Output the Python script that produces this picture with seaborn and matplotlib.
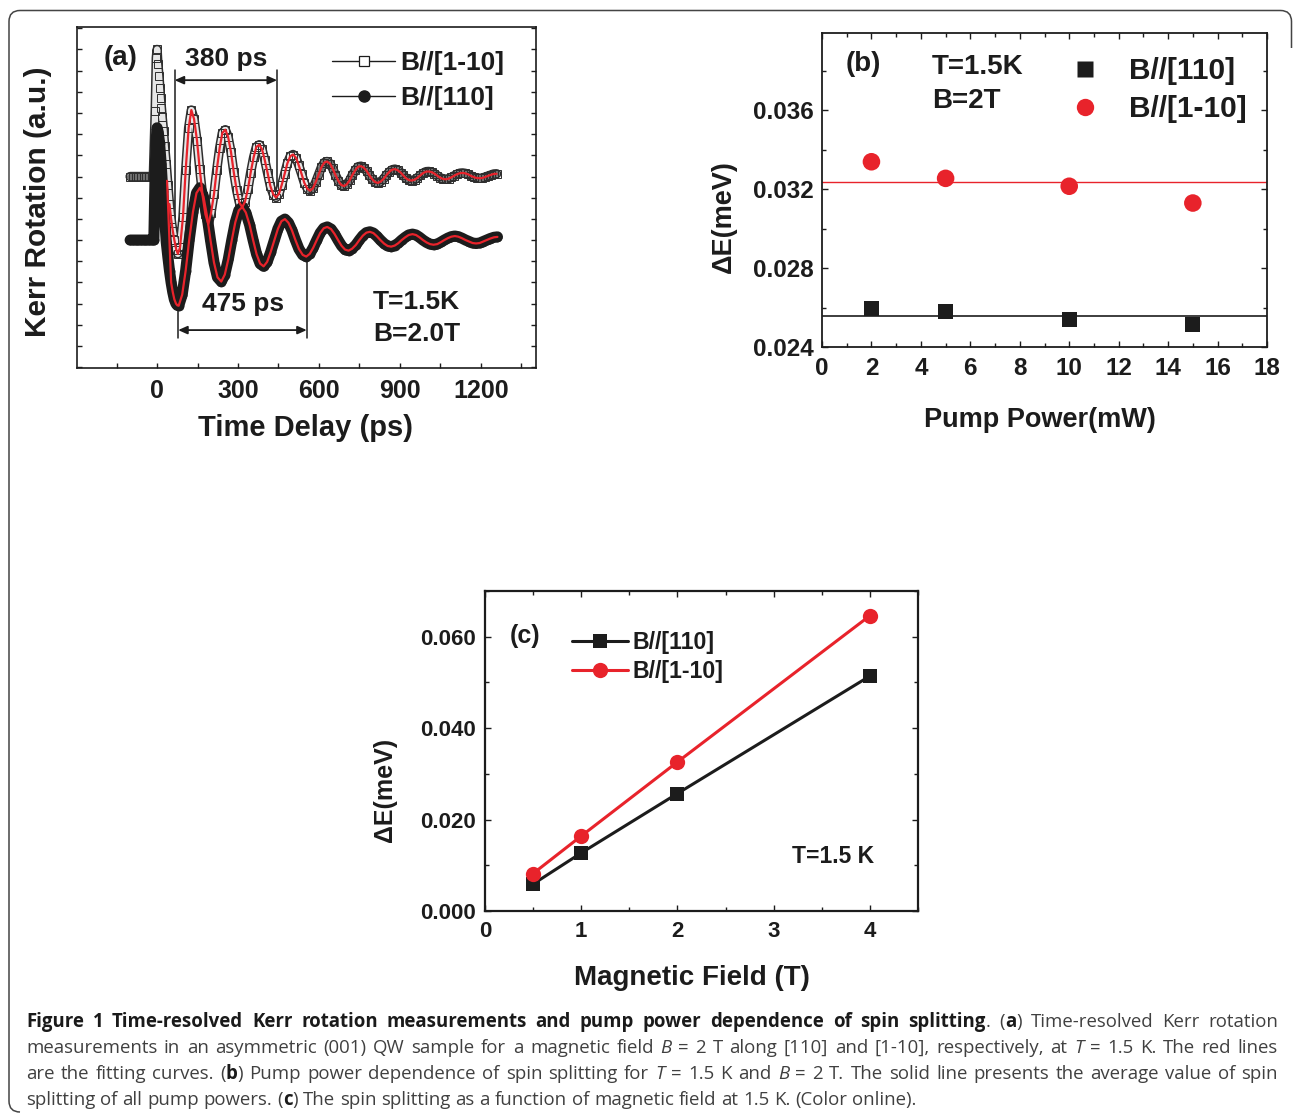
import numpy as np
import matplotlib
matplotlib.use("Agg")
import matplotlib.pyplot as plt
import seaborn as sns
from matplotlib.lines import Line2D
from matplotlib.path import Path
from matplotlib.patches import PathPatch
from matplotlib.ticker import MultipleLocator, FormatStrFormatter

# ---------------- data: panel (a) time-resolved Kerr rotation (a.u., offset) ----------------
T_1M10 = [-100, -90, -80, -70, -60, -50, -40, -30, -20, -14, -7, -3, 0, 3, 7, 10, 13, 16, 19,
          24, 28, 34, 40, 46, 52, 58, 64, 71, 77, 85, 96, 106, 117,
          127, 137, 148, 158, 169, 179, 190, 200, 211, 221, 232, 242, 253, 263, 274, 284, 295, 305,
          316, 326, 337, 347, 358, 368, 379, 389, 399, 410, 420, 431, 441, 452, 462, 473, 483, 494,
          504, 515, 525, 536, 546, 557, 567, 578, 588, 599, 609, 620, 630, 641, 651, 661, 672, 682,
          693, 703, 714, 724, 735, 745, 756, 766, 777, 787, 798, 808, 819, 829, 840, 850, 861, 871,
          882, 892, 903, 913, 923, 934, 944, 955, 965, 976, 986, 997, 1007, 1018, 1028, 1039, 1049,
          1060, 1070, 1081, 1091, 1102, 1112, 1123, 1133, 1143, 1154, 1164, 1175, 1185, 1196, 1206,
          1217, 1227, 1238, 1248, 1259]
KERR_1M10 = [3.0, 3.0, 3.0, 3.0, 3.0, 3.0, 3.0, 3.0, 3.0, 3.0, 6.1, 8.6, 9.0, 8.3, 7.75, 7.2, 6.7, 6.25, 5.8,
             5.15, 4.45, 3.6, 2.6, 1.7, 1.0, 0.45, 0.0, -0.45, -0.65, -0.35, 1.1, 3.3, 5.3,
             6.14, 5.72, 4.70, 3.36, 2.08, 1.22, 0.75, 1.28, 2.17, 3.29, 4.35, 5.06, 5.21, 4.89, 4.16, 3.23, 2.36, 1.77,
             1.55, 1.82, 2.42, 3.19, 3.91, 4.40, 4.50, 4.29, 3.79, 3.15, 2.55, 2.15, 2.01, 2.19, 2.60, 3.13, 3.62, 3.96,
             4.04, 3.89, 3.54, 3.11, 2.70, 2.43, 2.33, 2.45, 2.73, 3.09, 3.43, 3.66, 3.71, 3.61, 3.38, 3.08, 2.80, 2.61,
             2.55, 2.63, 2.82, 3.07, 3.30, 3.46, 3.49, 3.42, 3.26, 3.06, 2.87, 2.74, 2.70, 2.76, 2.89, 3.06, 3.22, 3.32,
             3.35, 3.30, 3.19, 3.05, 2.92, 2.83, 2.81, 2.85, 2.94, 3.05, 3.16, 3.23, 3.24, 3.21, 3.14, 3.04, 2.95,
             2.89, 2.87, 2.90, 2.96, 3.04, 3.11, 3.16, 3.17, 3.15, 3.10, 3.03, 2.97, 2.93, 2.92, 2.93,
             2.98, 3.03, 3.08, 3.12, 3.13]

T_110 = [-100, -90, -80, -70, -60, -50, -40, -30, -20, -12, -8, -4, 0, 4, 9, 15, 21, 28, 34, 40,
         46, 52, 58, 64, 70, 75,
         80, 93, 106, 119, 133, 146, 159, 172, 185, 198, 211, 224, 238, 251, 264, 277, 290, 303, 316, 329,
         343, 356, 369, 382, 395, 408, 421, 435, 448, 461, 474, 487, 500, 513, 526, 540, 553, 566, 579, 592,
         605, 618, 631, 645, 658, 671, 684, 697, 710, 723, 737, 750, 763, 776, 789, 802, 815, 828, 842, 855,
         868, 881, 894, 907, 920, 933, 947, 960, 973, 986, 999, 1012, 1025, 1039, 1052, 1065, 1078, 1091,
         1104, 1117, 1130, 1144, 1157, 1170, 1183, 1196, 1209, 1222, 1235, 1249, 1262]
KERR_110 = [0.0, 0.0, 0.0, 0.0, 0.0, 0.0, 0.0, 0.0, 0.0, 0.0, 2.7, 4.6, 5.3, 5.1, 4.6, 3.6, 2.3, 1.05, -0.1, -0.8,
            -1.45, -2.0, -2.45, -2.8, -3.0, -3.08,
            -3.10, -2.58, -1.44, 0.00, 1.33, 2.22, 2.47, 2.05, 1.14, 0.00, -1.06, -1.76, -1.96, -1.63, -0.91, 0.00,
            0.84, 1.40, 1.56, 1.30, 0.72, 0.00, -0.67, -1.11, -1.24, -1.03, -0.57, 0.00, 0.53, 0.89, 0.99, 0.82,
            0.46, 0.00, -0.42, -0.70, -0.78, -0.65, -0.36, 0.00, 0.34, 0.56, 0.62, 0.52, 0.29, 0.00, -0.27, -0.45,
            -0.50, -0.41, -0.23, 0.00, 0.21, 0.35, 0.39, 0.33, 0.18, 0.00, -0.17, -0.28, -0.31, -0.26, -0.15, 0.00,
            0.13, 0.24, 0.28, 0.24, 0.13, 0.00, -0.11, -0.19, -0.22, -0.19, -0.10, 0.00, 0.09, 0.16, 0.19, 0.16,
            0.09, 0.00, -0.07, -0.14, -0.16, -0.14, -0.07, 0.00, 0.07, 0.13, 0.15]
FIT_LEAD_T_110 = [37]
FIT_LEAD_V_110 = [2.8]
FIT_START_1M10 = 46
FIT_START_110 = 52

# ---------------- data: panel (b) pump power dependence ----------------
POWER_MW = [2, 5, 10, 15]
DE_POWER_110 = [0.02594, 0.02582, 0.02540, 0.02513]
DE_POWER_1M10 = [0.03338, 0.03254, 0.03214, 0.03129]

# ---------------- data: panel (c) magnetic field dependence ----------------
FIELD_T = [0.5, 1, 2, 4]
DE_FIELD_110 = [0.0059, 0.0127, 0.0257, 0.0514]
DE_FIELD_1M10 = [0.0082, 0.0164, 0.0326, 0.0646]

LEG_1M10 = "B//[1-10]"
LEG_110 = "B//[110]"

CAPTION_LINES = [
    "*Figure 1 Time-resolved Kerr rotation measurements and pump power dependence of spin splitting*. (*a*) Time-resolved Kerr rotation",
    "measurements in an asymmetric (001) QW sample for a magnetic field _B_ = 2 T along [110] and [1-10], respectively, at _T_ = 1.5 K. The red lines",
    "are the fitting curves. (*b*) Pump power dependence of spin splitting for _T_ = 1.5 K and _B_ = 2 T. The solid line presents the average value of spin",
    "splitting of all pump powers. (*c*) The spin splitting as a function of magnetic field at 1.5 K. (Color online).",
]

# ---------------- style ----------------
INK = "#1c1c1c"
RED = "#e8232b"
sns.set_theme(style="ticks")
plt.rcParams["font.family"] = ["Liberation Sans", "DejaVu Sans"]
plt.rcParams["font.weight"] = "bold"
plt.rcParams["axes.labelweight"] = "bold"
plt.rcParams["text.color"] = INK
plt.rcParams["axes.labelcolor"] = INK
plt.rcParams["xtick.color"] = INK
plt.rcParams["ytick.color"] = INK
plt.rcParams["axes.edgecolor"] = INK

W, H = 1293, 1118
fig = plt.figure(figsize=(W / 100, H / 100), dpi=100)


def px_axes(l, t, r, b):
    return fig.add_axes([l / W, 1 - b / H, (r - l) / W, (b - t) / H])


def style_ticks(ax, lw_spine, top=True):
    for s in ax.spines.values():
        s.set_linewidth(lw_spine)
        s.set_visible(True)
    ax.tick_params(which="both", direction="in", right=True, top=top, width=1.0)
    ax.tick_params(which="major", length=4.5)
    ax.tick_params(which="minor", length=3.0)


def subset(ts, vs, lo, hi):
    pairs = [(t, v) for t, v in zip(ts, vs) if lo <= t <= hi]
    return [p[0] for p in pairs], [p[1] for p in pairs]


# ================= panel (a) =================
axA = px_axes(77, 27, 536, 368)
round_kw = dict(solid_joinstyle="round", solid_capstyle="round")
# B//[1-10]: dense open squares -> dark-edged band with square "rungs"
sns.lineplot(x=T_1M10, y=KERR_1M10, ax=axA, sort=False, estimator=None, color="#2e2e2e", lw=6.8,
             zorder=2, **round_kw)
sns.lineplot(x=T_1M10, y=KERR_1M10, ax=axA, sort=False, estimator=None, color="#e6e6e6", lw=4.6,
             zorder=2.05, **round_kw)
# where the squares pile up densely (flat baseline and late times) the band looks dark grey
for lo, hi in [(-100, -14), (560, 1259)]:
    ts, vs = subset(T_1M10, KERR_1M10, lo, hi)
    sns.lineplot(x=ts, y=vs, ax=axA, sort=False, estimator=None, color="#6e6e6e", lw=4.6,
                 zorder=2.07, **round_kw)
sns.lineplot(x=T_1M10, y=KERR_1M10, ax=axA, sort=False, estimator=None, color="#2e2e2e", lw=0,
             marker="s", ms=6.0, mfc="none", mec="#2e2e2e", mew=0.7, zorder=2.1)
# B//[110]: dense filled circles -> solid black band
sns.lineplot(x=T_110, y=KERR_110, ax=axA, sort=False, estimator=None, color=INK, lw=8.0,
             marker="o", ms=6.6, mfc=INK, mec=INK, mew=0.4, zorder=3, **round_kw)
fit_t_1m10, fit_v_1m10 = subset(T_1M10, KERR_1M10, FIT_START_1M10, 1e9)
ft, fv = subset(T_110, KERR_110, FIT_START_110, 1e9)
fit_t_110 = FIT_LEAD_T_110 + ft
fit_v_110 = FIT_LEAD_V_110 + fv
sns.lineplot(x=fit_t_1m10, y=fit_v_1m10, ax=axA, sort=False, estimator=None, color=RED, lw=1.6, zorder=5)
sns.lineplot(x=fit_t_110, y=fit_v_110, ax=axA, sort=False, estimator=None, color=RED, lw=1.6, zorder=5)

axA.set_xlim(-297, 1405)
axA.set_ylim(-6.04, 10.06)
axA.xaxis.set_major_locator(MultipleLocator(300))
axA.xaxis.set_minor_locator(MultipleLocator(150))
axA.yaxis.set_major_locator(MultipleLocator(1))
style_ticks(axA, 1.2, top=False)
axA.tick_params(which="both", length=3.6)
axA.tick_params(axis="x", labelsize=18, pad=8)
axA.tick_params(axis="y", labelleft=False)
axA.set_xlabel("Time Delay (ps)", fontsize=21)
axA.set_ylabel("Kerr Rotation (a.u.)", fontsize=21.5)
axA.xaxis.label.set_va("center")
axA.yaxis.label.set_va("center")
axA.xaxis.set_label_coords(0.497, -0.176)
axA.yaxis.set_label_coords(-0.085, 0.487)

arrow_kw = dict(arrowstyle="<|-|>,head_length=0.45,head_width=0.2", color=INK, lw=1.3,
                shrinkA=0, shrinkB=0)
axA.annotate("", xy=(445, 7.55), xytext=(65, 7.55), arrowprops=arrow_kw, zorder=6)
axA.plot([65, 65], [8.05, -0.65], color=INK, lw=1.1, zorder=1)
axA.plot([445, 445], [8.05, 1.85], color=INK, lw=1.1, zorder=1)
axA.annotate("", xy=(555, -4.25), xytext=(78, -4.25), arrowprops=arrow_kw, zorder=6)
axA.plot([78, 78], [-3.0, -4.6], color=INK, lw=1.1, zorder=1)
axA.plot([555, 555], [-0.9, -4.6], color=INK, lw=1.1, zorder=1)
axA.text(258, 8.54, "380 ps", fontsize=19, ha="center", va="center")
axA.text(317, -3.02, "475 ps", fontsize=19, ha="center", va="center")
axA.text(-136, 8.6, "(a)", fontsize=20, ha="center", va="center")
axA.text(800, -2.92, "T=1.5K", fontsize=19, ha="left", va="center")
axA.text(800, -4.43, "B=2.0T", fontsize=19, ha="left", va="center")

hA1 = Line2D([], [], color=INK, lw=1.0, marker="s", ms=7, mfc="white", mec=INK, mew=0.9)
hA2 = Line2D([], [], color=INK, lw=1.0, marker="o", ms=8, mfc=INK, mec=INK)
axA.legend([hA1, hA2], [LEG_1M10, LEG_110], loc="upper left", bbox_to_anchor=(0.5556, 0.930),
           frameon=False, fontsize=19, handlelength=2.4, handletextpad=0.2, labelspacing=0.44,
           borderpad=0, borderaxespad=0, numpoints=1)

# ================= panel (b) =================
axB = px_axes(822, 33, 1267, 347)
sns.scatterplot(x=POWER_MW, y=DE_POWER_110, ax=axB, marker="s", s=115, color=INK,
                edgecolor="none", zorder=3)
sns.scatterplot(x=POWER_MW, y=DE_POWER_1M10, ax=axB, marker="o", s=160, color=RED,
                edgecolor="none", zorder=3)
axB.axhline(np.mean(DE_POWER_110), color=INK, lw=1.2, zorder=2)
axB.axhline(np.mean(DE_POWER_1M10), color=RED, lw=1.0, zorder=2)
axB.set_xlim(0, 18)
axB.set_ylim(0.024, 0.0399)
axB.xaxis.set_major_locator(MultipleLocator(2))
axB.xaxis.set_minor_locator(MultipleLocator(1))
axB.yaxis.set_major_locator(MultipleLocator(0.004))
axB.yaxis.set_minor_locator(MultipleLocator(0.002))
axB.yaxis.set_major_formatter(FormatStrFormatter("%.3f"))
style_ticks(axB, 1.3)
axB.tick_params(axis="x", labelsize=17.5, pad=7)
axB.tick_params(axis="y", labelsize=17.5, pad=6)
axB.set_xlabel("Pump Power(mW)", fontsize=19.5)
axB.set_ylabel("ΔE(meV)", fontsize=19.5)
axB.xaxis.label.set_va("center")
axB.yaxis.label.set_va("center")
axB.xaxis.set_label_coords(0.49, -0.2325)
axB.yaxis.set_label_coords(-0.22, 0.414)
axB.text(1.66, 0.03834, "(b)", fontsize=20, ha="center", va="center")
axB.text(4.45, 0.03819, "T=1.5K", fontsize=20, ha="left", va="center")
axB.text(4.45, 0.03647, "B=2T", fontsize=20, ha="left", va="center")
hB1 = Line2D([], [], ls="none", marker="s", ms=11, color=INK, mec="none")
hB2 = Line2D([], [], ls="none", marker="o", ms=12.5, color=RED, mec="none")
axB.legend([hB1, hB2], [LEG_110, LEG_1M10], loc="upper left", bbox_to_anchor=(0.557, 0.922),
           frameon=False, fontsize=21.5, handlelength=1.0, handletextpad=0.97, labelspacing=0.33,
           borderpad=0, borderaxespad=0, numpoints=1)

# ================= panel (c) =================
axC = px_axes(485, 591, 918, 911)
sns.lineplot(x=FIELD_T, y=DE_FIELD_110, ax=axC, sort=False, estimator=None, color=INK, lw=2.2,
             marker="s", ms=10, mec=INK, mew=0, zorder=3)
sns.lineplot(x=FIELD_T, y=DE_FIELD_1M10, ax=axC, sort=False, estimator=None, color=RED, lw=2.2,
             marker="o", ms=11, mec=RED, mew=0, zorder=4)
axC.set_xlim(0, 4.5)
axC.set_ylim(0, 0.07)
axC.xaxis.set_major_locator(MultipleLocator(1))
axC.xaxis.set_minor_locator(MultipleLocator(0.5))
axC.yaxis.set_major_locator(MultipleLocator(0.02))
axC.yaxis.set_minor_locator(MultipleLocator(0.01))
axC.yaxis.set_major_formatter(FormatStrFormatter("%.3f"))
style_ticks(axC, 1.6)
axC.tick_params(axis="x", labelsize=16, pad=7)
axC.tick_params(axis="y", labelsize=16, pad=6.5)
axC.set_xlabel("Magnetic Field (T)", fontsize=20)
axC.set_ylabel("ΔE(meV)", fontsize=18)
axC.xaxis.label.set_va("center")
axC.yaxis.label.set_va("center")
axC.xaxis.set_label_coords(0.478, -0.209)
axC.yaxis.set_label_coords(-0.231, 0.378)
axC.text(0.416, 0.0602, "(c)", fontsize=18, ha="center", va="center")
axC.text(4.04, 0.01196, "T=1.5 K", fontsize=16.5, ha="right", va="center")
hC1 = Line2D([], [], color=INK, lw=2.2, marker="s", ms=10, mec=INK, mew=0)
hC2 = Line2D([], [], color=RED, lw=2.2, marker="o", ms=11, mec=RED, mew=0)
axC.legend([hC1, hC2], [LEG_110, LEG_1M10], loc="upper left", bbox_to_anchor=(0.201, 0.874),
           frameon=False, fontsize=16.7, handlelength=2.4, handletextpad=0.2, labelspacing=0.25,
           borderpad=0, borderaxespad=0, numpoints=1)

# ================= frame around the figure =================
def fx(x):
    return x / W


def fy(y):
    return 1 - y / H


r = 11
verts = [(1291.5, 48), (1291.5, 10.5 + r), (1291.5, 10.5), (1291.5 - r, 10.5),
         (9 + r, 10.5), (9, 10.5), (9, 10.5 + r), (9, 1112 - r), (9, 1112), (9 + r, 1112)]
codes = [Path.MOVETO, Path.LINETO, Path.CURVE3, Path.CURVE3, Path.LINETO, Path.CURVE3, Path.CURVE3,
         Path.LINETO, Path.CURVE3, Path.CURVE3]
frame_path = Path([(fx(x), fy(y)) for x, y in verts], codes)
fig.patches.append(PathPatch(frame_path, transform=fig.transFigure, fill=False,
                             edgecolor="#444444", lw=1.1))

# ================= caption (justified) =================
CAP_FAMILY = ["Open Sans", "DejaVu Sans"]
CAP_SIZE = 13.4
CAP_X0, CAP_X1 = 26, 1278
CAP_BASELINES = [1027, 1053, 1079, 1105]


def parse_line(line):
    words, cur, seg = [], [], ""
    bold = ital = False
    for ch in line:
        if ch in "*_ ":
            if seg:
                cur.append((seg, bold, ital))
                seg = ""
            if ch == "*":
                bold = not bold
            elif ch == "_":
                ital = not ital
            else:
                if cur:
                    words.append(cur)
                    cur = []
        else:
            seg += ch
    if seg:
        cur.append((seg, bold, ital))
    if cur:
        words.append(cur)
    return words


renderer = fig.canvas.get_renderer()


def cap_text(x, y, s, bold, ital):
    return fig.text(fx(x), fy(y), s, family=CAP_FAMILY, fontsize=CAP_SIZE,
                    weight="bold" if bold else "normal", style="italic" if ital else "normal",
                    color="#1a1a1a" if bold else "#404040", ha="left", va="baseline")


def seg_width(s, bold, ital):
    t = cap_text(0, 0, s, bold, ital)
    w = t.get_window_extent(renderer=renderer).width
    t.remove()
    return w


space_w = seg_width("a a", False, False) - seg_width("aa", False, False)
for i, line in enumerate(CAPTION_LINES):
    words = parse_line(line)
    widths = [[seg_width(s, b, it) for s, b, it in w] for w in words]
    total = sum(sum(ws) for ws in widths)
    last = i == len(CAPTION_LINES) - 1
    gap = space_w if last else (CAP_X1 - CAP_X0 - total) / (len(words) - 1)
    x = CAP_X0
    for w, ws in zip(words, widths):
        for (s, b, it), sw in zip(w, ws):
            cap_text(x, CAP_BASELINES[i], s, b, it)
            x += sw
        x += gap

fig.savefig("out.png", dpi=100)
